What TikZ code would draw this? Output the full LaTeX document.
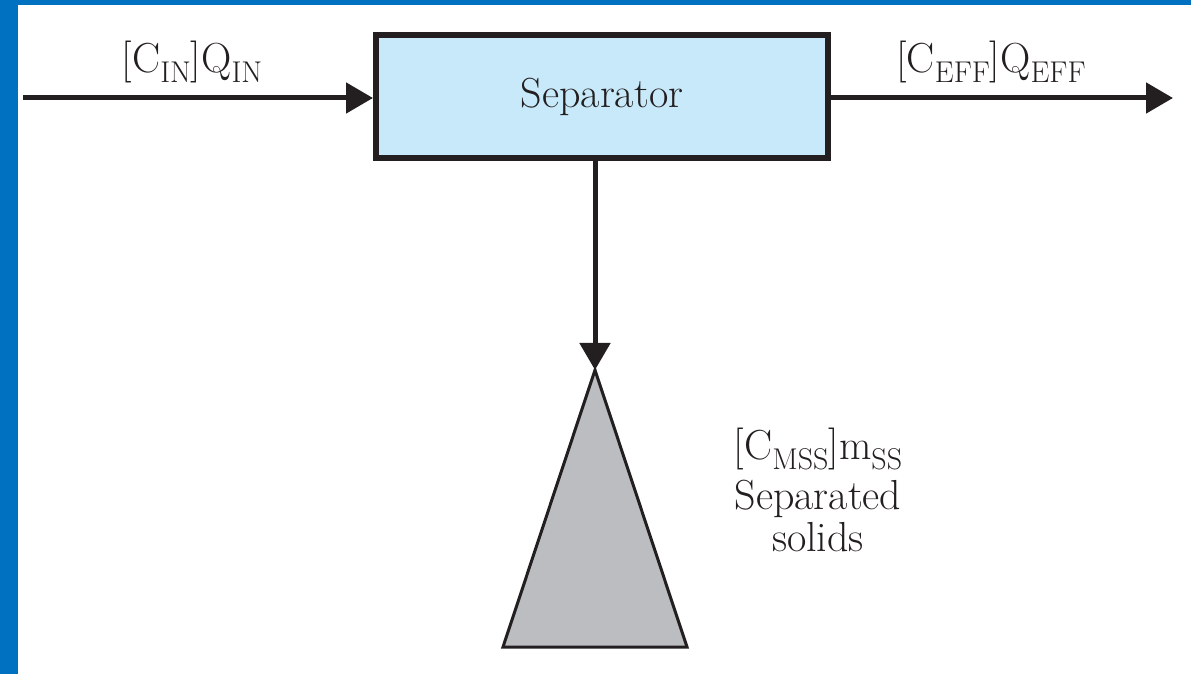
\documentclass[tikz,border=0pt]{standalone}
\usetikzlibrary{arrows.meta}

\definecolor{frameblue}{RGB}{0,112,192}
\definecolor{boxblue}{RGB}{200,233,250}
\definecolor{solidgray}{RGB}{187,189,192}
\definecolor{inkblack}{RGB}{35,31,32}

\newcommand{\lowsub}[1]{\raisebox{-5pt}{\fontsize{15}{18}\selectfont #1}}

\tikzset{every picture/.style={line width=0.75pt},
  flow/.style={draw=inkblack, line width=2.5pt, -{Triangle[length=13.5pt,width=15pt]}},
  sepbox/.style={draw=inkblack, fill=boxblue, line width=3pt, minimum width=226pt, minimum height=61.5pt, inner sep=0pt},
  lbl/.style={inner sep=0.75pt, text=inkblack, font=\fontsize{21}{25}\selectfont, align=center}
}

\begin{document}
\begin{tikzpicture}[x=0.5pt,y=0.5pt,yscale=-1,xscale=1]
\useasboundingbox (0,0) rectangle (1191,674);

%Frame
\fill[frameblue] (0,0) rectangle (1191,5);
\fill[frameblue] (0,0) rectangle (18,674);

%Separator box
\node[sepbox, lbl] (sep) at (602,96.5) {Separator};

%Inflow and effluent
\coordinate (in) at (23,98);
\coordinate (out) at (1173,98);
\draw[flow] (in) -- (in -| sep.west);
\draw[flow] (sep.east |- out) -- (out);

% Text Node
\node[lbl] (qin) at (192,62) {[C\lowsub{IN}]Q\lowsub{IN}};
% Text Node
\node[lbl] (qeff) at (991,62) {[C\lowsub{EFF}]Q\lowsub{EFF}};

%Separated solids pile
\coordinate (apex) at (595,370);
\coordinate (baseL) at (503,647);
\coordinate (baseR) at (687,647);
\draw[draw=inkblack, fill=solidgray, line width=1.5pt, line join=miter] (apex) -- (baseL) -- (baseR) -- cycle;
\draw[flow] (apex |- sep.south) -- (apex);

% Text Node
\node[lbl, font=\fontsize{21}{21}\selectfont] (mss) at (818,490) {[C\lowsub{MSS}]m\lowsub{SS}\\[4pt]Separated\\solids};

\end{tikzpicture}
\end{document}
